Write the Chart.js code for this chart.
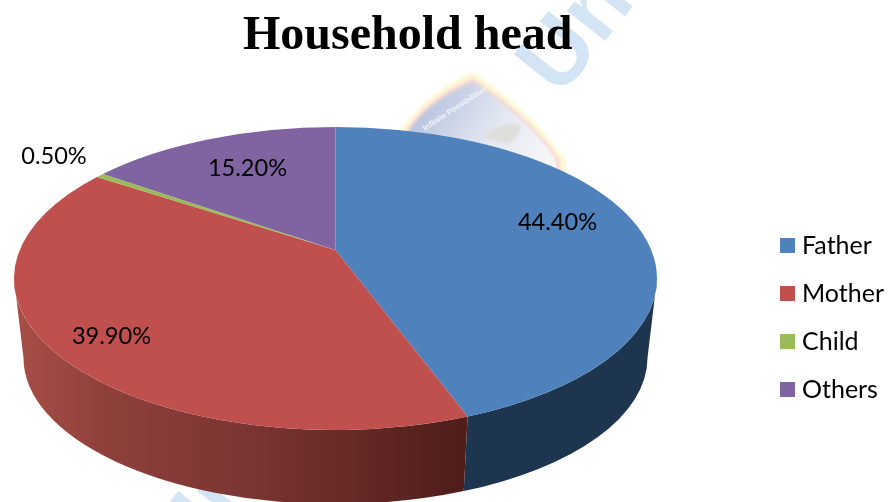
<!DOCTYPE html>
<html>
<head>
<meta charset="utf-8">
<style>
  html, body { margin: 0; padding: 0; background: #fff; }
  #wrap { position: relative; width: 889px; height: 502px; overflow: hidden; }
</style>
<script src="https://cdn.jsdelivr.net/npm/chart.js@4/dist/chart.umd.js"></script>
</head>
<body>
<div id="wrap"><canvas id="chart" width="889" height="502"></canvas></div>
<script>
// Household head shares, in percent
const categories = ['Father', 'Mother', 'Child', 'Others'];
const shares = [44.4, 39.9, 0.5, 15.2];

const topColours = ['#4f81bd', '#c0504d', '#9bbb59', '#8064a2'];
const wallColours = ['#1e3550', null, '#6b8038', '#55426c'];

// Perspective disc: an ellipse for the top face, a slightly narrower one for the base.
const disc = {
  top:  { cx: 335.5, cy: 278.5, rx: 321.5, ry: 151.5 },
  base: { cx: 335.5, cy: 358,   rx: 312,   ry: 146 },
  tilt: -0.188   // vertical shift of the apex, in top-radius units
};

const labelFont = '23.6px Lato, "Noto Sans", sans-serif';
const labelCentres = [[557.5, 222], [111.5, 336], [54, 156.5], [247.5, 168]];

// Library arc angle -> parametric angle on the perspective ellipse.
function ellipseAngle(arcAngle) {
  const t = arcAngle + Math.PI / 2;
  const u = Math.sin(t), v = -Math.cos(t), a = disc.tilt;
  const d = 1 + a * v;
  return Math.atan2((v + a) / d, u * Math.sqrt(1 - a * a) / d);
}

function sliceSpan(arc) {
  const from = ellipseAngle(arc.startAngle);
  let to = ellipseAngle(arc.endAngle);
  while (to <= from) to += Math.PI * 2;
  return [from, to];
}

function lettering(ctx, x, y) {
  ctx.save();
  ctx.translate(x, y);
  ctx.rotate(-0.9);
  ctx.fillStyle = '#d3e5f5';
  ctx.font = 'bold 92px "Liberation Sans", sans-serif';
  ctx.fillText('Uni', 0, 0);
  ctx.restore();
}

function paintWatermark(ctx) {
  // University lettering running diagonally across the page
  lettering(ctx, 560, 98);
  lettering(ctx, 190, 578);

  // University crest
  const shield = (inset, fill) => {
    ctx.beginPath();
    ctx.moveTo(473, 72 + inset);
    ctx.quadraticCurveTo(425, 92 + inset, 396 + inset, 136);
    ctx.lineTo(396 + inset, 210);
    ctx.lineTo(568 - inset, 210);
    ctx.lineTo(566 - inset, 160);
    ctx.quadraticCurveTo(530, 110 + inset, 473, 72 + inset);
    ctx.closePath();
    ctx.fillStyle = fill;
    ctx.fill();
  };
  ctx.save();
  ctx.filter = 'blur(1.5px)';
  shield(0, '#fdf8d6');
  shield(6, '#f8d8d4');
  const inner = ctx.createLinearGradient(430, 100, 540, 170);
  inner.addColorStop(0, '#b9c5df');
  inner.addColorStop(0.55, '#e4e8f2');
  inner.addColorStop(1, '#f6f6f8');
  shield(10, inner);
  ctx.fillStyle = '#dededc';
  ctx.beginPath();
  ctx.moveTo(484, 138);
  ctx.quadraticCurveTo(497, 122, 518, 124);
  ctx.quadraticCurveTo(524, 134, 508, 144);
  ctx.closePath();
  ctx.fill();
  ctx.restore();

  ctx.save();
  ctx.translate(425, 131);
  ctx.rotate(-0.58);
  ctx.fillStyle = '#f2f4f9';
  ctx.font = 'bold 8px "Liberation Sans", sans-serif';
  ctx.fillText('Infinite Possibilities', 0, 0);
  ctx.restore();
}

const perspectivePie = {
  id: 'perspectivePie',
  beforeDraw(chart) {
    paintWatermark(chart.ctx);
  },
  beforeDatasetDraw(chart, args) {
    const ctx = chart.ctx;
    const arcs = chart.getDatasetMeta(args.index).data;
    const { top, base } = disc;
    const apexY = top.cy + disc.tilt * top.ry;

    // Side wall: only the part of each slice on the near half of the rim shows.
    arcs.forEach((arc, i) => {
      const [from, to] = sliceSpan(arc);
      const a = Math.max(from, 0), b = Math.min(to, Math.PI);
      if (a >= b) return;
      ctx.beginPath();
      ctx.ellipse(top.cx, top.cy, top.rx, top.ry, 0, a, b);
      ctx.ellipse(base.cx, base.cy, base.rx, base.ry, 0, b, a, true);
      ctx.closePath();
      if (wallColours[i]) {
        ctx.fillStyle = wallColours[i];
      } else {
        const g = ctx.createLinearGradient(top.cx - top.rx, 0, 465, 0);
        g.addColorStop(0, '#a84e48');
        g.addColorStop(0.2, '#8f403b');
        g.addColorStop(0.52, '#7b3532');
        g.addColorStop(1, '#4f1d1a');
        ctx.fillStyle = g;
      }
      ctx.fill();
    });

    // Top face
    arcs.forEach((arc, i) => {
      const [from, to] = sliceSpan(arc);
      ctx.beginPath();
      ctx.moveTo(top.cx, apexY);
      ctx.ellipse(top.cx, top.cy, top.rx, top.ry, 0, from, to);
      ctx.closePath();
      ctx.fillStyle = topColours[i];
      ctx.fill();
    });
    return false;
  },
  afterDatasetsDraw(chart) {
    const ctx = chart.ctx;
    ctx.save();
    ctx.fillStyle = '#000';
    ctx.font = labelFont;
    ctx.textAlign = 'center';
    ctx.textBaseline = 'middle';
    shares.forEach((value, i) => {
      ctx.fillText(value.toFixed(2) + '%', labelCentres[i][0], labelCentres[i][1]);
    });
    ctx.restore();
  }
};

new Chart(document.getElementById('chart'), {
  type: 'pie',
  data: {
    labels: categories,
    datasets: [{ data: shares, backgroundColor: topColours, borderWidth: 0 }]
  },
  options: {
    responsive: false,
    animation: false,
    layout: { padding: { left: 243, right: -5, top: 0, bottom: 0 } },
    plugins: {
      tooltip: { enabled: false },
      title: {
        display: true,
        text: 'Household head',
        align: 'start',
        color: '#000',
        font: { family: '"Liberation Serif", serif', size: 48, weight: 'bold', lineHeight: 1 },
        padding: { top: 13, bottom: 149 }
      },
      legend: {
        position: 'right',
        align: 'start',
        fullSize: false,
        labels: {
          color: '#000',
          font: { family: 'Lato, "Noto Sans", sans-serif', size: 25 },
          boxWidth: 4,
          boxHeight: 4,
          padding: 23,
          generateLabels() {
            return categories.map((text, i) => ({
              text,
              fillStyle: topColours[i],
              strokeStyle: topColours[i],
              fontColor: '#000',
              lineWidth: 11,
              index: i,
              hidden: false
            }));
          }
        }
      }
    }
  },
  plugins: [perspectivePie]
});
</script>
</body>
</html>
